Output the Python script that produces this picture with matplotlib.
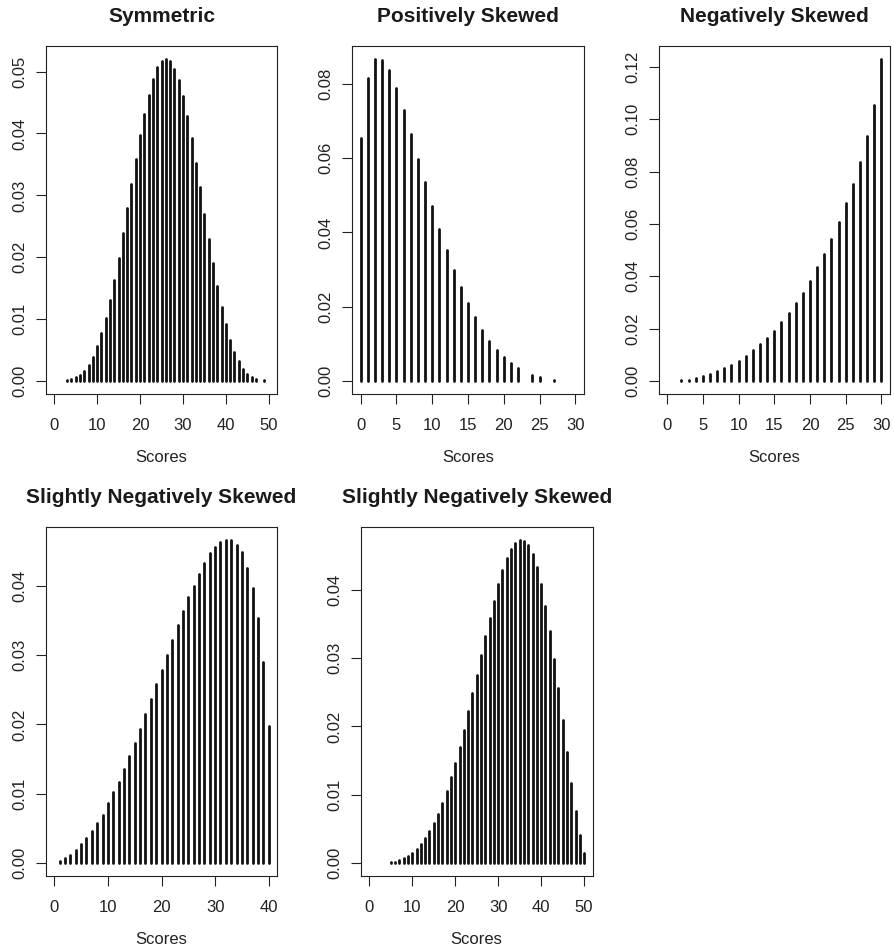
import numpy as np
import matplotlib.pyplot as plt

plt.rcParams['font.family'] = ['Liberation Sans', 'DejaVu Sans']

# Data (probability of each score)
sym_x = list(range(3, 48)) + [49]
sym_y = [0.0002, 0.0003, 0.0006, 0.0010, 0.0017, 0.0026, 0.0039, 0.0057, 0.0077,
         0.0102, 0.0131, 0.0163, 0.0199, 0.0239, 0.0279, 0.0319, 0.0359, 0.0398,
         0.0431, 0.0462, 0.0488, 0.0507, 0.0517, 0.0521, 0.0517, 0.0505, 0.0486,
         0.0460, 0.0428, 0.0393, 0.0353, 0.0313, 0.0270, 0.0229, 0.0190, 0.0153,
         0.0120, 0.0092, 0.0067, 0.0047, 0.0032, 0.0020, 0.0012, 0.0006, 0.0004,
         0.0001]

pos_x = list(range(0, 23)) + [24, 25, 27]
pos_y = [0.0654, 0.0815, 0.0868, 0.0865, 0.0836, 0.0788, 0.0730, 0.0666, 0.0599,
         0.0535, 0.0471, 0.0409, 0.0353, 0.0300, 0.0253, 0.0211, 0.0172, 0.0138,
         0.0109, 0.0084, 0.0066, 0.0048, 0.0036, 0.0016, 0.0011, 0.0004]

neg_x = list(range(2, 31))
neg_y = [0.0004, 0.0006, 0.0013, 0.0019, 0.0028, 0.0038, 0.0050, 0.0063, 0.0078,
         0.0097, 0.0118, 0.0140, 0.0164, 0.0193, 0.0225, 0.0259, 0.0297, 0.0338,
         0.0383, 0.0435, 0.0486, 0.0544, 0.0608, 0.0679, 0.0753, 0.0838, 0.0936,
         0.1052, 0.1231]

sneg1_x = list(range(1, 41))
sneg1_y = [0.0003, 0.0008, 0.0012, 0.0019, 0.0027, 0.0036, 0.0046, 0.0058, 0.0070,
           0.0086, 0.0102, 0.0117, 0.0136, 0.0155, 0.0173, 0.0193, 0.0215, 0.0236,
           0.0258, 0.0279, 0.0300, 0.0322, 0.0343, 0.0363, 0.0383, 0.0400, 0.0417,
           0.0433, 0.0447, 0.0456, 0.0463, 0.0466, 0.0466, 0.0459, 0.0448, 0.0426,
           0.0396, 0.0354, 0.0290, 0.0197]

sneg2_x = list(range(5, 51))
sneg2_y = [0.0001, 0.0002, 0.0004, 0.0007, 0.0011, 0.0015, 0.0020, 0.0028, 0.0036,
           0.0047, 0.0058, 0.0072, 0.0088, 0.0106, 0.0126, 0.0147, 0.0170, 0.0195,
           0.0222, 0.0249, 0.0276, 0.0304, 0.0332, 0.0359, 0.0384, 0.0408, 0.0429,
           0.0446, 0.0460, 0.0468, 0.0473, 0.0472, 0.0465, 0.0452, 0.0433, 0.0409,
           0.0377, 0.0340, 0.0299, 0.0256, 0.0210, 0.0162, 0.0117, 0.0076, 0.0041,
           0.0015]

titles = ["Symmetric", "Positively Skewed", "Negatively Skewed",
          "Slightly Negatively Skewed", "Slightly Negatively Skewed"]

W, H = 894, 948
fig = plt.figure(figsize=(W / 100, H / 100), dpi=100)


def px_axes(left, top, right, bottom):
    return fig.add_axes([left / W, 1 - bottom / H, (right - left) / W, (bottom - top) / H])


def rplot(ax, x, y, title, xmax, xstep, ymax, ystep):
    ax.vlines(x, 0, y, colors='#111111', linewidth=2.0, capstyle='round')
    top = max(y)
    ax.set_xlim(-0.04 * xmax, 1.04 * xmax)
    ax.set_ylim(-0.04 * top, 1.04 * top)
    ax.set_xticks(np.arange(0, xmax + xstep / 2, xstep))
    ax.set_yticks(np.arange(0, ymax + ystep / 2, ystep))
    ax.set_yticklabels(["%.2f" % v for v in np.arange(0, ymax + ystep / 2, ystep)])
    ax.tick_params(axis='both', direction='out', length=7.2, width=0.8,
                   labelsize=12, colors='#222222')
    ax.tick_params(axis='x', pad=10)
    ax.tick_params(axis='y', pad=6, labelrotation=90)
    plt.setp(ax.get_yticklabels(), va='center')
    for s in ax.spines.values():
        s.set_linewidth(0.8)
        s.set_color('#222222')
    ax.set_title(title, fontsize=15, fontweight='bold', pad=17, color='#1a1a1a')
    ax.set_xlabel("Scores", fontsize=12, labelpad=12, color='#222222')


ax1 = px_axes(45.7, 45.7, 277.3, 394)
ax2 = px_axes(352, 45.7, 584, 394)
ax3 = px_axes(658.5, 45.7, 890, 394)
ax4 = px_axes(45.7, 527, 277.3, 876)
ax5 = px_axes(360.7, 527, 592.7, 876)

rplot(ax1, sym_x, sym_y, titles[0], 50, 10, 0.05, 0.01)
rplot(ax2, pos_x, pos_y, titles[1], 30, 5, 0.08, 0.02)
rplot(ax3, neg_x, neg_y, titles[2], 30, 5, 0.12, 0.02)
rplot(ax4, sneg1_x, sneg1_y, titles[3], 40, 10, 0.04, 0.01)
rplot(ax5, sneg2_x, sneg2_y, titles[4], 50, 10, 0.04, 0.01)

fig.savefig("out.png", dpi=100)
